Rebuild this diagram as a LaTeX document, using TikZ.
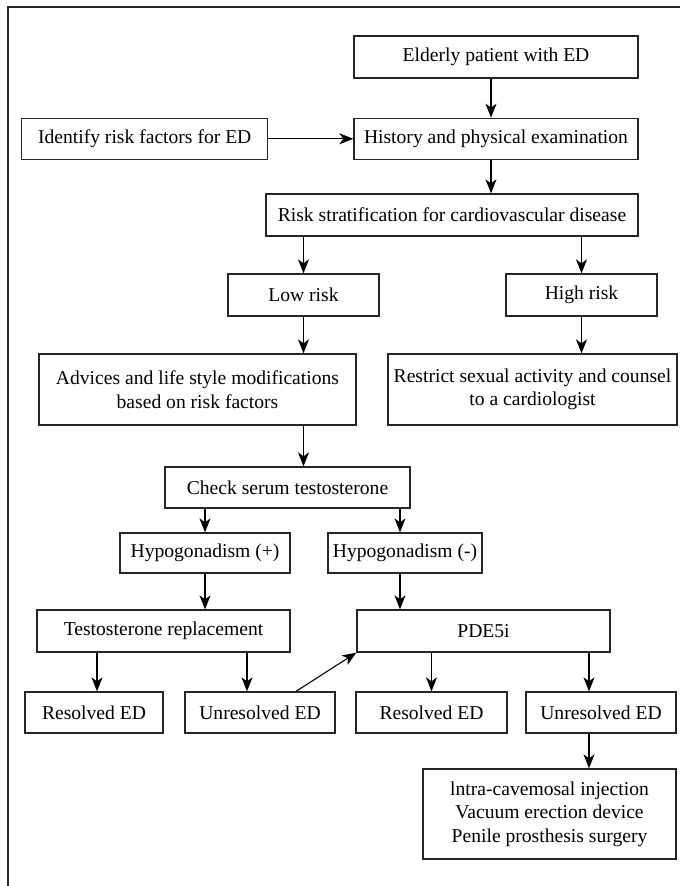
\documentclass[tikz,border=0pt]{standalone}
\usepackage{fontspec}
\setmainfont{Liberation Serif}
\usetikzlibrary{arrows.meta,positioning}

\begin{document}
\begin{tikzpicture}[x=0.5pt,y=-0.5pt]
	\tikzstyle{main}=[rectangle, draw=black!85, line width=0.65pt, inner sep=0pt, align=center, minimum height=20.5pt, font=\fontsize{9.8}{11.75}\selectfont]
	\tikzstyle{connect}=[-{Stealth[length=7pt,width=5.5pt,inset=2pt]}, line width=0.55pt]
	\useasboundingbox (0,0) rectangle (680,886);
	\draw[line width=0.9pt, black!85] (8,886) -- (8,7) -- (680,7);
	\node[main, minimum width=142pt, minimum height=21pt] (elderly) at (496,57) {Elderly patient with ED};
	\node[main, minimum width=142pt] (history) [below=19.5pt of elderly] {History and physical examination};
	\node[main, minimum width=123pt] (identify) [left=42.5pt of history] {Identify risk factors for ED};
	\node[main, minimum width=186pt, minimum height=21pt] (risk) at (452,215) {Risk stratification for cardiovascular disease};
	\node[main, minimum width=75.5pt, minimum height=21pt] (low) at (303.5,295) {Low risk};
	\node[main, minimum width=75.5pt, minimum height=21pt] (high) at (581.5,295) {High risk};
	\node[main, minimum width=158.5pt, minimum height=35.5pt] (advices) at (197.5,389.5) {Advices and life style modifications\\based on risk factors};
	\node[main, minimum width=144.5pt, minimum height=35.5pt] (restrict) at (532.5,389.5) {Restrict sexual activity and counsel\\to a cardiologist};
	\node[main, minimum width=122.5pt] (check) at (287.5,487.5) {Check serum testosterone};
	\node[main, minimum width=85pt, minimum height=20pt] (hypop) at (205,553) {Hypogonadism (+)};
	\node[main, minimum width=77pt, minimum height=20pt] (hypom) at (405,553) {Hypogonadism (-)};
	\node[main, minimum width=126.5pt, minimum height=21pt] (testo) at (163.5,631) {Testosterone replacement};
	\node[main, minimum width=126.5pt, minimum height=21pt] (pde) at (483.5,631) {PDE5i};
	\node[main, minimum width=69pt] (res1) at (94,712.5) {Resolved ED};
	\node[main, minimum width=75pt] (unres1) at (260,712.5) {Unresolved ED};
	\node[main, minimum width=75.5pt] (res2) at (431.5,712.5) {Resolved ED};
	\node[main, minimum width=75pt] (unres2) at (601,712.5) {Unresolved ED};
	\node[main, minimum width=126.5pt, minimum height=45pt] (options) at (549.5,814) {lntra-cavemosal injection\\Vacuum erection device\\Penile prosthesis surgery};
	\coordinate (c1) at ([xshift=-2.5pt]history.north);
	\coordinate (c2) at ([xshift=-2.5pt]hypom.north);
	\coordinate (c3) at ([xshift=1.5pt]res1.north);
	\coordinate (c4) at ([xshift=-6.5pt]unres1.north);
	\coordinate (c5) at ([xshift=-6pt]unres2.north);
	\coordinate (c6) at ([xshift=18pt]unres1.north);
	\path (elderly.south -| c1) edge [connect] (c1)
	(history.south -| c1) edge [connect] (risk.north -| c1)
	(identify) edge [connect] (history)
	(risk.south -| low) edge [connect] (low)
	(risk.south -| high) edge [connect] (high)
	(low) edge [connect] (advices.north -| low)
	(high) edge [connect] (restrict.north -| high)
	(advices.south -| low) edge [connect] (check.north -| low)
	(check.south -| hypop) edge [connect] (hypop)
	(check.south -| c2) edge [connect] (c2)
	(hypop) edge [connect] (testo.north -| hypop)
	(hypom.south -| c2) edge [connect] (pde.north -| c2)
	(testo.south -| c3) edge [connect] (c3)
	(testo.south -| c4) edge [connect] (c4)
	(c6) edge [connect] (pde.south west)
	(pde.south -| res2) edge [connect] (res2)
	(pde.south -| c5) edge [connect] (c5)
	(unres2.south -| c5) edge [connect] (options.north -| c5);
\end{tikzpicture}
\end{document}
